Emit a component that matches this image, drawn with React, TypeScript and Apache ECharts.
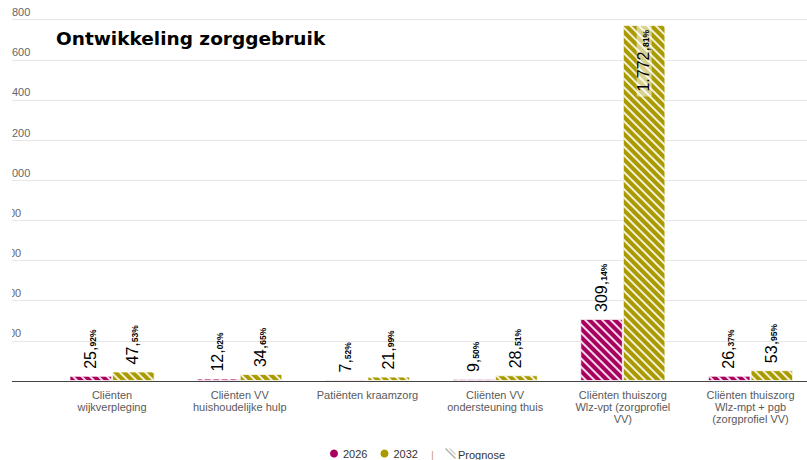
import React, { useEffect, useRef } from 'react';
import * as echarts from 'echarts';

const chartTitle = 'Ontwikkeling zorggebruik';
const categories = [
  'Cliënten\nwijkverpleging',
  'Cliënten VV\nhuishoudelijke hulp',
  'Patiënten kraamzorg',
  'Cliënten VV\nondersteuning thuis',
  'Cliënten thuiszorg\nWlz-vpt (zorgprofiel\nVV)',
  'Cliënten thuiszorg\nWlz-mpt + pgb\n(zorgprofiel VV)',
];
const seriesNames = ['2026', '2032'];
const values2026 = [25.92, 12.02, 7.52, 9.5, 309.14, 26.37];
const values2032 = [47.53, 34.65, 21.99, 28.51, 1772.81, 53.95];
const yMin = 0;
const yMax = 1800;
const yStep = 200;
const prognoseLabel = 'Prognose';

const colors = ['#A8005F', '#A99A00'];

const fmtInt = (s: string) => s.replace(/\B(?=(\d{3})+(?!\d))/g, '.');
const fmtLabel = (p: any) => {
  const s = Number(p.value).toFixed(2);
  const [i, d] = s.split('.');
  return `{a|${fmtInt(i)},}{b|${d}%}`;
};

const rich = {
  a: { fontSize: 16, fontFamily: 'Arial', color: '#000', lineHeight: 15, verticalAlign: 'bottom' },
  b: { fontSize: 8.5, fontFamily: 'Arial', fontWeight: 'bold', color: '#000', lineHeight: 15, verticalAlign: 'bottom', padding: [0, 0, 1, 0] },
};

const decal = {
  symbol: 'rect',
  symbolSize: 1,
  color: 'rgba(255,255,255,0.85)',
  dashArrayX: [1, 0],
  dashArrayY: [1.5, 3.5],
  rotation: Math.PI / 4,
};

const W = 810;
const H = 460;

export default function App() {
  const ref = useRef<HTMLDivElement>(null);
  useEffect(() => {
    if (!ref.current) return;
    const chart = echarts.init(ref.current, undefined, { renderer: 'svg' });
    const mkData = (vals: number[]) =>
      vals.map((v) =>
        v > yMax * 0.8
          ? {
              value: v,
              label: {
                position: 'insideTop',
                align: 'right',
                distance: 0,
                backgroundColor: 'rgba(255,255,255,0.55)',
                padding: [0, 5, 0, 5],
              },
            }
          : v
      );
    const mkSeries = (name: string, vals: number[], idx: number) => ({
      name,
      type: 'bar',
      xAxisIndex: 1,
      yAxisIndex: 1,
      data: mkData(vals),
      barGap: '0%',
      barCategoryGap: '33.3%',
      itemStyle: {
        color: colors[idx],
        borderColor: 'rgba(255,255,255,0.45)',
        borderWidth: 1,
        decal,
      },
      label: {
        show: true,
        position: 'top',
        rotate: 90,
        align: 'left',
        verticalAlign: 'middle',
        distance: 7,
        formatter: fmtLabel,
        rich,
      },
    });
    chart.setOption({
      animation: false,
      textStyle: { fontFamily: 'Arial' },
      title: {
        text: chartTitle,
        left: 44,
        top: 29,
        padding: 0,
        textStyle: { fontFamily: 'DejaVu Sans', fontWeight: 'bold', fontSize: 18.5, color: '#000' },
      },
      legend: {
        data: seriesNames,
        left: 318,
        top: 448,
        padding: 0,
        icon: 'circle',
        itemWidth: 8,
        itemHeight: 8,
        itemGap: 13,
        textStyle: { fontSize: 11, color: '#333', fontFamily: 'Arial' },
        itemStyle: { decal: 'none', borderWidth: 0 },
      },
      grid: [
        { left: 0, right: W - 795, top: 19.6, bottom: H - 381, outerBoundsMode: 'none', containLabel: false },
        { left: 36.2, right: W - 802.4, top: 19.6, bottom: H - 381, outerBoundsMode: 'none', containLabel: false },
      ],
      xAxis: [
        {
          type: 'value',
          gridIndex: 0,
          min: 0,
          max: 1,
          axisLine: { show: true, onZero: false, lineStyle: { color: '#444', width: 1 } },
          axisTick: { show: false },
          axisLabel: { show: false },
          splitLine: { show: false },
        },
        {
          type: 'category',
          gridIndex: 1,
          data: categories,
          axisLine: { show: false },
          axisTick: { show: false },
          axisLabel: {
            interval: 0,
            fontSize: 11,
            color: '#5a5a5a',
            lineHeight: 12,
            margin: 8,
          },
        },
      ],
      yAxis: [
        {
          type: 'value',
          gridIndex: 0,
          min: yMin,
          max: yMax,
          interval: yStep,
          axisLine: { show: false },
          axisTick: { show: false },
          splitLine: { lineStyle: { color: '#e6e6e6', width: 1 } },
          axisLabel: {
            align: 'left',
            margin: 9.2,
            verticalAlign: 'bottom',
            padding: [0, 0, 2, 0],
            fontSize: 11,
            color: '#666',
            formatter: (v: number) => fmtInt(String(v)),
          },
        },
        { type: 'value', gridIndex: 1, min: yMin, max: yMax, show: false },
      ],
      graphic: [
        {
          type: 'text',
          left: 419,
          top: 449,
          style: { text: '|', font: '11px Arial', fill: '#C9A27A' },
        },
        {
          type: 'group',
          left: 431,
          top: 446,
          children: [
            { type: 'rect', shape: { x: 0, y: 0, width: 11, height: 11 }, style: { fill: 'rgba(0,0,0,0)' } },
            { type: 'line', shape: { x1: 1, y1: 1, x2: 11, y2: 11 }, style: { stroke: '#aaa', lineWidth: 1.2 } },
            { type: 'line', shape: { x1: 5, y1: 1, x2: 11, y2: 7 }, style: { stroke: '#ccc', lineWidth: 1.2 } },
          ],
        },
        {
          type: 'text',
          left: 446,
          top: 449,
          style: { text: prognoseLabel, font: '11px Arial', fill: '#333' },
        },
      ],
      series: [mkSeries(seriesNames[0], values2026, 0), mkSeries(seriesNames[1], values2032, 1)],
    });
    return () => chart.dispose();
  }, []);
  return (
    <div style={{ position: 'absolute', left: 12, top: 0, width: 795, height: H, overflow: 'hidden', background: '#fff' }}>
      <div ref={ref} style={{ width: W, height: H }} />
    </div>
  );
}
